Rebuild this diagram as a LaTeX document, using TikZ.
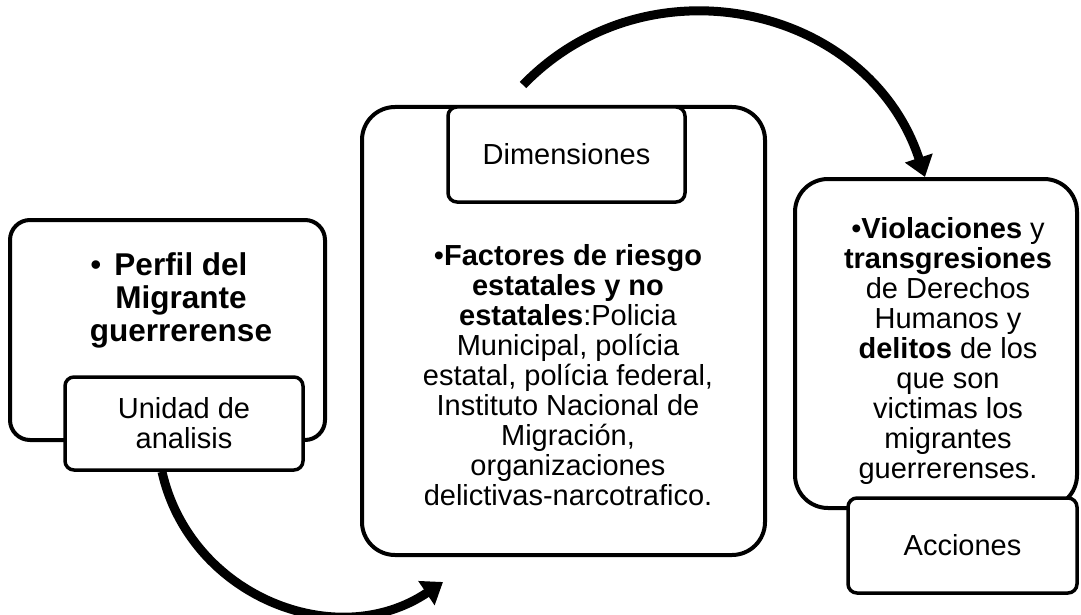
\documentclass[tikz,border=0pt]{standalone}
\usepackage{fontspec}
\setmainfont{Liberation Sans}
\usetikzlibrary{arrows.meta}

\begin{document}
\begin{tikzpicture}[x=1pt,y=-1pt,
  bigbox/.style={rectangle,draw,line width=4pt,fill=white},
  tagbox/.style={rectangle,draw,line width=3.5pt,fill=white,rounded corners=9pt,align=center,font=\fontsize{29}{30}\selectfont},
  bodytext/.style={align=center,anchor=north,inner sep=0pt,font=\fontsize{29}{30}\selectfont},
  bigarrow/.style={line width=9pt,-{Triangle[length=20pt,width=28pt]}}]
\useasboundingbox (0,0) rectangle (1081,615);
\path (167.5,330) node(perfil)[bigbox,rounded corners=20pt,minimum width=315pt,minimum height=220pt]{}
(563.5,331) node(factores)[bigbox,rounded corners=33pt,minimum width=403pt,minimum height=448pt]{}
(936,343.5) node(violaciones)[bigbox,rounded corners=33pt,minimum width=282pt,minimum height=329pt]{}
(184,423.5) node(unidad)[tagbox,minimum width=238pt,minimum height=93pt]{Unidad de\\analisis}
(566.5,154.5) node(dimensiones)[tagbox,minimum width=237pt,minimum height=95pt]{Dimensiones}
(962.5,545.5) node(acciones)[tagbox,minimum width=229pt,minimum height=95pt]{Acciones};
\path (181,252) node(perfiltxt)[bodytext,font=\bfseries\fontsize{31.5}{33}\selectfont]{\llap{\mdseries•\hspace{13pt}}Perfil del\\Migrante\\guerrerense}
(568,244) node(factorestxt)[bodytext]{•\textbf{Factores de riesgo}\\\textbf{estatales y no}\\\textbf{estatales}:Policia\\Municipal, polícia\\estatal, polícia federal,\\Instituto Nacional de\\Migración,\\organizaciones\\delictivas-narcotrafico.}
(948,217) node(violtxt)[bodytext]{•\textbf{Violaciones} y\\\textbf{transgresiones}\\de Derechos\\Humanos y\\\textbf{delitos} de los\\que son\\victimas los\\migrantes\\guerrerenses.};
\coordinate (topstart) at (523,85);
\coordinate (botend) at (443,582);
\draw[bigarrow](topstart) .. controls (649,-45) and (869,6) .. ([xshift=-11pt]violaciones.north);
\draw[bigarrow]([xshift=-22pt]unidad.south) .. controls (190,596) and (336,654) .. (botend);
\end{tikzpicture}
\end{document}
